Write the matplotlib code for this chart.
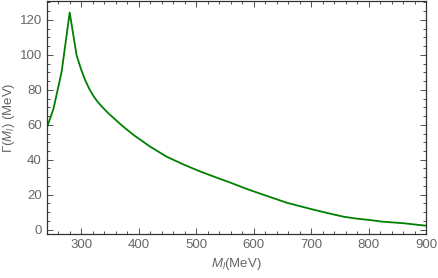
import matplotlib
matplotlib.use("Agg")
import matplotlib.pyplot as plt
from matplotlib.ticker import MultipleLocator

# Width Gamma(M_l) vs M_l
mass = [240, 252, 266, 280, 285, 292, 300, 307, 314, 321, 328, 336, 346,
        356, 366, 376, 391, 420, 449, 478, 507, 542, 559, 588, 617, 658,
        700, 730, 757, 780, 803, 824, 840, 861, 880, 900]
gamma = [58.0, 69.4, 90.3, 124.2, 114.0, 99.8, 91.5, 85.5, 80.6, 76.6, 73.4,
         70.4, 67.0, 64.0, 61.0, 58.2, 54.2, 47.5, 41.7, 37.3, 33.3, 29.0,
         27.0, 23.3, 20.0, 15.4, 11.8, 9.4, 7.4, 6.3, 5.5, 4.6, 4.2, 3.7,
         3.0, 2.3]

plt.rcParams['font.family'] = ['Liberation Sans', 'DejaVu Sans']
plt.rcParams['mathtext.fontset'] = 'custom'
plt.rcParams['mathtext.rm'] = 'Liberation Sans'
plt.rcParams['mathtext.it'] = 'Liberation Sans:italic'

fig = plt.figure(figsize=(4.38, 2.78), dpi=100)
ax = fig.add_axes([0.1066, 0.158, 0.866, 0.838])

ax.plot(mass, gamma, color='#008000', lw=1.3)

ax.set_xlim(240, 900)
ax.set_ylim(-2.5, 130.7)
ax.xaxis.set_major_locator(MultipleLocator(100))
ax.xaxis.set_minor_locator(MultipleLocator(20))
ax.yaxis.set_major_locator(MultipleLocator(20))
ax.yaxis.set_minor_locator(MultipleLocator(5))

ax.tick_params(which='both', direction='in', top=True, right=True,
               color='#333333', labelcolor='#666666', labelsize=9.5, width=0.6)
ax.tick_params(which='major', length=4)
ax.tick_params(which='minor', length=2.2)
for s in ax.spines.values():
    s.set_color('#333333')
    s.set_linewidth(0.9)

ax.set_xlabel(r'$M_l$(MeV)', color='#666666', fontsize=9.5, labelpad=4)
ax.set_ylabel(r'$\Gamma(M_l)$ (MeV)', color='#666666', fontsize=9.5,
              va='center')
ax.yaxis.set_label_coords(-0.1, 0.5)

fig.savefig('out.png', dpi=100)
